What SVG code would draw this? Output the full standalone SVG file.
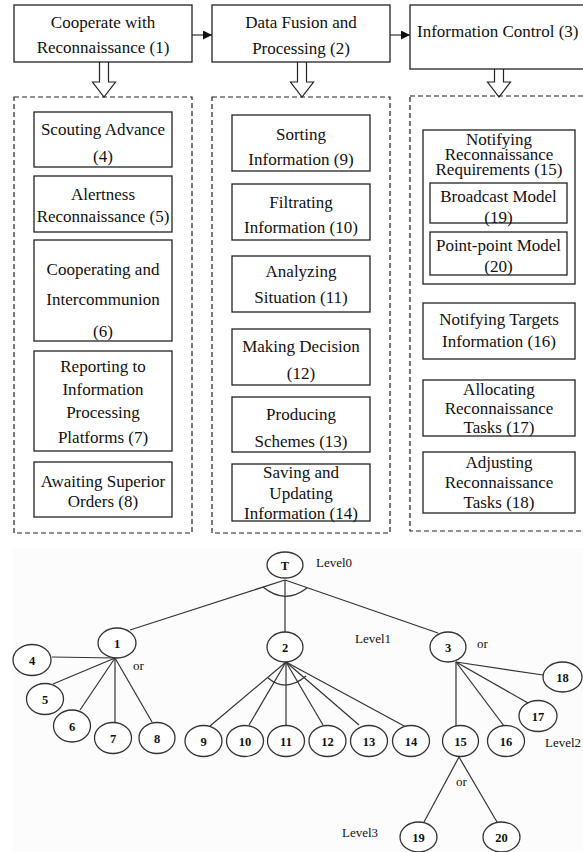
<svg xmlns="http://www.w3.org/2000/svg" width="583" height="852" viewBox="0 0 583 852">
<style>
.box{fill:#fff;stroke:#222;stroke-width:1.3}
.dash{fill:none;stroke:#222;stroke-width:1.2;stroke-dasharray:5 3}
.t{font-family:"Liberation Serif","Times New Roman",serif;font-size:17px;fill:#111;text-anchor:middle}
.hol{fill:#fff;stroke:#222;stroke-width:1.2}
.ln{stroke:#333;stroke-width:1.2;fill:none}
.nd{fill:#fff;stroke:#333;stroke-width:1.3}
.n{font-family:"Liberation Serif","Times New Roman",serif;font-size:12.5px;font-weight:bold;fill:#111;text-anchor:middle}
.lv{font-family:"Liberation Serif","Times New Roman",serif;font-size:13px;fill:#111}
</style>
<defs>
<marker id="ah" viewBox="0 0 10 10" refX="10" refY="5" markerWidth="9" markerHeight="9" markerUnits="userSpaceOnUse" orient="auto">
<path d="M0,0 L10,5 L0,10 z" fill="#111"/>
</marker>
</defs>
<rect x="0" y="0" width="583" height="852" fill="#fff"/>
<rect x="13" y="548" width="570" height="304" fill="#fcfcfc"/>

<g id="connectors">
<line class="ln" x1="192" y1="35" x2="212" y2="35" stroke="#111" marker-end="url(#ah)"/>
<line class="ln" x1="390" y1="35" x2="410" y2="35" stroke="#111" marker-end="url(#ah)"/>
<path class="hol" d="M99.5,62 V82 H92.5 L104,97 L115.5,82 H108.5 V62"/>
<path class="hol" d="M297.5,62 V82 H290.5 L302,97 L313.5,82 H306.5 V62"/>
<path class="hol" d="M494.5,69 V82 H487.5 L499,97 L510.5,82 H503.5 V69"/>
<!-- tree -->
<line class="ln" x1="285" y1="580" x2="130" y2="630"/>
<line class="ln" x1="285" y1="580" x2="285" y2="632"/>
<line class="ln" x1="285" y1="580" x2="438" y2="633"/>
<path class="ln" d="M263,587 Q285,605 307,588"/>
<line class="ln" x1="115" y1="658" x2="52" y2="657"/>
<line class="ln" x1="115" y1="658" x2="53" y2="684"/>
<line class="ln" x1="115" y1="658" x2="80" y2="710"/>
<line class="ln" x1="115" y1="658" x2="115" y2="723"/>
<line class="ln" x1="115" y1="658" x2="152" y2="722"/>
<line class="ln" x1="286" y1="662" x2="210" y2="726"/>
<line class="ln" x1="286" y1="662" x2="249" y2="725"/>
<line class="ln" x1="286" y1="662" x2="286" y2="726"/>
<line class="ln" x1="286" y1="662" x2="323" y2="725"/>
<line class="ln" x1="286" y1="662" x2="359" y2="725"/>
<line class="ln" x1="286" y1="662" x2="406" y2="727"/>
<path class="ln" d="M268,678 Q286,693 306,676"/>
<line class="ln" x1="456" y1="662" x2="456" y2="726"/>
<line class="ln" x1="456" y1="662" x2="504" y2="726"/>
<line class="ln" x1="456" y1="662" x2="528" y2="703"/>
<line class="ln" x1="456" y1="662" x2="543" y2="675"/>
<line class="ln" x1="459" y1="757" x2="424" y2="822"/>
<line class="ln" x1="459" y1="757" x2="497" y2="822"/>
</g>

<g id="n1"><rect class="box" x="14" y="5" width="178" height="57"/><text class="t" x="103" y="28">Cooperate with</text><text class="t" x="103" y="53">Reconnaissance (1)</text></g>
<g id="n2"><rect class="box" x="212" y="5" width="178" height="57"/><text class="t" x="301" y="28">Data Fusion and</text><text class="t" x="301" y="54">Processing (2)</text></g>
<g id="n3"><rect class="box" x="410" y="5" width="180" height="64"/><text class="t" x="417" y="37" style="text-anchor:start">Information Control (3)</text></g>

<g id="group1"><rect class="dash" x="14" y="97" width="178" height="436"/></g>
<g id="group2"><rect class="dash" x="212" y="97" width="178" height="436"/></g>
<g id="group3"><rect class="dash" x="410" y="96" width="180" height="435"/></g>

<g id="n4"><rect class="box" x="34" y="112" width="138" height="55"/><text class="t" x="103" y="135">Scouting Advance</text><text class="t" x="103" y="162">(4)</text></g>
<g id="n5"><rect class="box" x="34" y="176" width="138" height="56"/><text class="t" x="103" y="200">Alertness</text><text class="t" x="103" y="222">Reconnaissance (5)</text></g>
<g id="n6"><rect class="box" x="34" y="240" width="138" height="101"/><text class="t" x="103" y="275">Cooperating and</text><text class="t" x="103" y="305">Intercommunion</text><text class="t" x="103" y="337">(6)</text></g>
<g id="n7"><rect class="box" x="34" y="351" width="138" height="100"/><text class="t" x="103" y="372">Reporting to</text><text class="t" x="103" y="395">Information</text><text class="t" x="103" y="418">Processing</text><text class="t" x="103" y="443">Platforms (7)</text></g>
<g id="n8"><rect class="box" x="34" y="462" width="138" height="55"/><text class="t" x="103" y="487">Awaiting Superior</text><text class="t" x="103" y="507">Orders (8)</text></g>

<g id="n9"><rect class="box" x="232" y="115" width="138" height="56"/><text class="t" x="301" y="140">Sorting</text><text class="t" x="301" y="165">Information (9)</text></g>
<g id="n10"><rect class="box" x="232" y="184" width="138" height="56"/><text class="t" x="301" y="208">Filtrating</text><text class="t" x="301" y="233">Information (10)</text></g>
<g id="n11"><rect class="box" x="232" y="256" width="138" height="56"/><text class="t" x="301" y="277">Analyzing</text><text class="t" x="301" y="303">Situation (11)</text></g>
<g id="n12"><rect class="box" x="232" y="329" width="138" height="56"/><text class="t" x="301" y="352">Making Decision</text><text class="t" x="301" y="379">(12)</text></g>
<g id="n13"><rect class="box" x="232" y="397" width="138" height="55"/><text class="t" x="301" y="420">Producing</text><text class="t" x="301" y="447">Schemes (13)</text></g>
<g id="n14"><rect class="box" x="232" y="464" width="138" height="57"/><text class="t" x="301" y="478">Saving and</text><text class="t" x="301" y="499">Updating</text><text class="t" x="301" y="519">Information (14)</text></g>

<g id="n15"><rect class="box" x="423" y="130" width="152" height="154"/><text class="t" x="499" y="145">Notifying</text><text class="t" x="499" y="160">Reconnaissance</text><text class="t" x="499" y="175">Requirements (15)</text></g>
<g id="n19"><rect class="box" x="430" y="183" width="137" height="40"/><text class="t" x="498.5" y="202">Broadcast Model</text><text class="t" x="498.5" y="223">(19)</text></g>
<g id="n20"><rect class="box" x="430" y="232" width="137" height="43"/><text class="t" x="498.5" y="251">Point-point Model</text><text class="t" x="498.5" y="272">(20)</text></g>
<g id="n16"><rect class="box" x="423" y="303" width="152" height="56"/><text class="t" x="499" y="325">Notifying Targets</text><text class="t" x="499" y="347">Information (16)</text></g>
<g id="n17"><rect class="box" x="423" y="380" width="152" height="56"/><text class="t" x="499" y="395">Allocating</text><text class="t" x="499" y="414">Reconnaissance</text><text class="t" x="499" y="433">Tasks (17)</text></g>
<g id="n18"><rect class="box" x="423" y="452" width="152" height="61"/><text class="t" x="499" y="468">Adjusting</text><text class="t" x="499" y="488">Reconnaissance</text><text class="t" x="499" y="508">Tasks (18)</text></g>

<g id="tT"><ellipse class="nd" cx="285" cy="565" rx="18" ry="13"/><text class="n" x="285" y="569.5">T</text></g>
<g id="t1"><ellipse class="nd" cx="117" cy="643" rx="19" ry="15"/><text class="n" x="117" y="647.5">1</text></g>
<g id="t2"><ellipse class="nd" cx="285" cy="647" rx="18" ry="15"/><text class="n" x="285" y="651.5">2</text></g>
<g id="t3"><ellipse class="nd" cx="448" cy="647" rx="18" ry="15"/><text class="n" x="448" y="651.5">3</text></g>
<g id="t4"><ellipse class="nd" cx="32" cy="660" rx="19" ry="15.5"/><text class="n" x="32" y="664.5">4</text></g>
<g id="t5"><ellipse class="nd" cx="45" cy="699" rx="18.5" ry="15.5"/><text class="n" x="45" y="703.5">5</text></g>
<g id="t6"><ellipse class="nd" cx="72" cy="726" rx="18.5" ry="16"/><text class="n" x="72" y="730.5">6</text></g>
<g id="t7"><ellipse class="nd" cx="113" cy="738" rx="18.5" ry="15.5"/><text class="n" x="113" y="742.5">7</text></g>
<g id="t8"><ellipse class="nd" cx="157" cy="738" rx="18" ry="15.5"/><text class="n" x="157" y="742.5">8</text></g>
<g id="t9"><ellipse class="nd" cx="203.5" cy="741" rx="18.5" ry="15.5"/><text class="n" x="203.5" y="745.5">9</text></g>
<g id="t10"><ellipse class="nd" cx="245" cy="741" rx="18.5" ry="15.5"/><text class="n" x="245" y="745.5">10</text></g>
<g id="t11"><ellipse class="nd" cx="286" cy="741" rx="18.5" ry="15.5"/><text class="n" x="286" y="745.5">11</text></g>
<g id="t12"><ellipse class="nd" cx="327.5" cy="741" rx="18.5" ry="15.5"/><text class="n" x="327.5" y="745.5">12</text></g>
<g id="t13"><ellipse class="nd" cx="369" cy="741" rx="18.5" ry="15.5"/><text class="n" x="369" y="745.5">13</text></g>
<g id="t14"><ellipse class="nd" cx="411" cy="741" rx="18.5" ry="15.5"/><text class="n" x="411" y="745.5">14</text></g>
<g id="t15"><ellipse class="nd" cx="460.5" cy="741" rx="18" ry="15.5"/><text class="n" x="460.5" y="745.5">15</text></g>
<g id="t16"><ellipse class="nd" cx="506" cy="741" rx="18.5" ry="15.5"/><text class="n" x="506" y="745.5">16</text></g>
<g id="t17"><ellipse class="nd" cx="538" cy="716" rx="19" ry="15.5"/><text class="n" x="538" y="720.5">17</text></g>
<g id="t18"><ellipse class="nd" cx="562.5" cy="677" rx="19.5" ry="15"/><text class="n" x="562.5" y="681.5">18</text></g>
<g id="t19"><ellipse class="nd" cx="418.5" cy="837" rx="18.5" ry="15"/><text class="n" x="418.5" y="841.5">19</text></g>
<g id="t20"><ellipse class="nd" cx="501.5" cy="837" rx="18.5" ry="15"/><text class="n" x="501.5" y="841.5">20</text></g>

<g id="labels">
<text class="lv" x="316" y="567">Level0</text>
<text class="lv" x="355" y="643">Level1</text>
<text class="lv" x="545" y="747">Level2</text>
<text class="lv" x="342" y="837">Level3</text>
<text class="lv" x="133" y="670">or</text>
<text class="lv" x="477" y="648">or</text>
<text class="lv" x="456" y="786">or</text>
</g>
</svg>
